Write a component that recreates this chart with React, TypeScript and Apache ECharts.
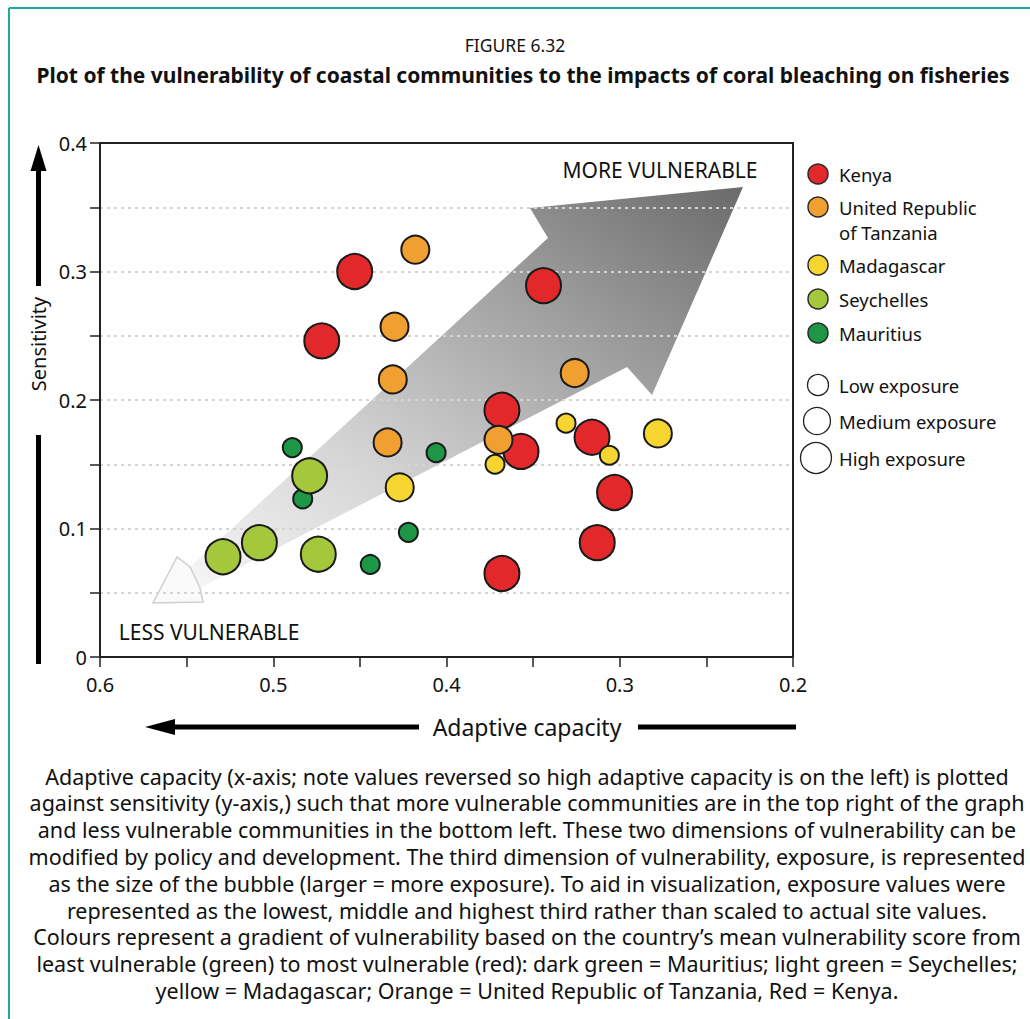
import React, { useEffect, useRef } from "react";
import * as echarts from "echarts";

// ---------------- Data ----------------
const exposureLevels = ["Low exposure", "Medium exposure", "High exposure"];

const kenyaAdaptive = [0.453, 0.472, 0.344, 0.368, 0.357, 0.316, 0.303, 0.313, 0.368];
const kenyaSensitivity = [0.3, 0.246, 0.289, 0.192, 0.16, 0.171, 0.128, 0.089, 0.065];
const kenyaExposure = [3, 3, 3, 3, 3, 3, 3, 3, 3];

const tanzaniaAdaptive = [0.418, 0.43, 0.431, 0.326, 0.434, 0.37];
const tanzaniaSensitivity = [0.317, 0.257, 0.216, 0.221, 0.167, 0.169];
const tanzaniaExposure = [2, 2, 2, 2, 2, 2];

const madagascarAdaptive = [0.427, 0.331, 0.306, 0.278, 0.372];
const madagascarSensitivity = [0.132, 0.182, 0.157, 0.174, 0.15];
const madagascarExposure = [2, 1, 1, 2, 1];

const seychellesAdaptive = [0.479, 0.529, 0.508, 0.474];
const seychellesSensitivity = [0.141, 0.078, 0.089, 0.08];
const seychellesExposure = [3, 3, 3, 3];

const mauritiusAdaptive = [0.489, 0.483, 0.406, 0.422, 0.444];
const mauritiusSensitivity = [0.163, 0.123, 0.159, 0.097, 0.072];
const mauritiusExposure = [1, 1, 1, 1, 1];

const countryNames = ["Kenya", "United Republic\nof Tanzania", "Madagascar", "Seychelles", "Mauritius"];

const captionLines = [
  "Adaptive capacity (x-axis; note values reversed so high adaptive capacity is on the left) is plotted",
  "against sensitivity (y-axis,) such that more vulnerable communities are in the top right of the graph",
  "and less vulnerable communities in the bottom left. These two dimensions of vulnerability can be",
  "modified by policy and development. The third dimension of vulnerability, exposure, is represented",
  "as the size of the bubble (larger = more exposure). To aid in visualization, exposure values were",
  "represented as the lowest, middle and highest third rather than scaled to actual site values.",
  "Colours represent a gradient of vulnerability based on the country\u2019s mean vulnerability score from",
  "least vulnerable (green) to most vulnerable (red): dark green = Mauritius; light green = Seychelles;",
  "yellow = Madagascar; Orange = United Republic of Tanzania, Red = Kenya.",
];

// ---------------- Styles ----------------
const FONT = "'Noto Sans', 'DejaVu Sans', sans-serif";
const COLORS = {
  kenya: "#e2282a",
  tanzania: "#f0a030",
  madagascar: "#f7d531",
  seychelles: "#a4c73c",
  mauritius: "#1d9646",
};
const bubbleSizes = [19, 28, 35];

function tickFmt(v: number) {
  const r = Math.round(v * 10);
  if (Math.abs(v * 10 - r) > 1e-6) return "";
  return r === 0 ? "0" : (r / 10).toFixed(1);
}

function makeSeries(name: string, xs: number[], ys: number[], ex: number[], color: string) {
  return {
    type: "scatter",
    name,
    data: xs.map((x, i) => [x, ys[i], ex[i]]),
    symbolSize: (v: number[]) => bubbleSizes[v[2] - 1],
    itemStyle: { color, borderColor: "#1a1a1a", borderWidth: 2, opacity: 1 },
    emphasis: { disabled: true },
    z: 3,
  };
}

function txt(text: string, x: number, y: number, size: number, extra: any = {}) {
  return {
    type: "text",
    x,
    y,
    z: 10,
    style: {
      text,
      fontSize: size,
      fontFamily: FONT,
      fill: "#111",
      align: "center",
      verticalAlign: "middle",
      ...extra,
    },
  };
}

export default function App() {
  const ref = useRef<HTMLDivElement>(null);

  useEffect(() => {
    document.body.style.margin = "0";
    const chart = echarts.init(ref.current!, null, { renderer: "svg" });

    const legendColors = [COLORS.kenya, COLORS.tanzania, COLORS.madagascar, COLORS.seychelles, COLORS.mauritius];
    const legendY = [174, 207, 265, 299, 333];
    const legendEls: any[] = [];
    countryNames.forEach((n, i) => {
      legendEls.push({
        type: "circle",
        z: 10,
        shape: { cx: 818, cy: legendY[i], r: 10 },
        style: { fill: legendColors[i], stroke: "#2a2a2a", lineWidth: 1.5 },
      });
      legendEls.push(
        txt(n, 839, legendY[i] - 12.75, 18.5, { align: "left", verticalAlign: "top", lineHeight: 25.5 })
      );
    });
    const expY = [385, 421, 458];
    const expR = [10.5, 13.5, 15.5];
    const expX = [818, 817, 816];
    exposureLevels.forEach((n, i) => {
      legendEls.push({
        type: "circle",
        z: 10,
        shape: { cx: expX[i], cy: expY[i], r: expR[i] },
        style: { fill: "#fff", stroke: "#222", lineWidth: 1.3 },
      });
      legendEls.push(txt(n, 839, expY[i], 18.5, { align: "left" }));
    });

    const option: any = {
      animation: false,
      backgroundColor: "#ffffff",
      grid: {
        left: 100,
        top: 143,
        width: 693,
        height: 514,
        show: false,
      },
      xAxis: {
        type: "value",
        min: 0.2,
        max: 0.6,
        interval: 0.05,
        inverse: true,
        axisLine: { show: true, lineStyle: { color: "#222", width: 2 } },
        axisTick: { show: true, length: 10, lineStyle: { color: "#222", width: 1.5 } },
        axisLabel: { formatter: tickFmt, fontSize: 20, color: "#111", fontFamily: FONT, margin: 17, showMinLabel: true, showMaxLabel: true },
        splitLine: { show: false },
      },
      yAxis: {
        type: "value",
        min: 0,
        max: 0.4,
        interval: 0.05,
        axisLine: { show: true, lineStyle: { color: "#222", width: 2 } },
        axisTick: { show: true, length: 10, lineStyle: { color: "#222", width: 1.5 } },
        axisLabel: { formatter: tickFmt, fontSize: 20, color: "#111", fontFamily: FONT, margin: 13, showMinLabel: true, showMaxLabel: true },
        splitLine: { show: true, lineStyle: { color: "#d4d4d4", width: 2, type: [3, 4] } },
      },
      series: [
        makeSeries("Mauritius", mauritiusAdaptive, mauritiusSensitivity, mauritiusExposure, COLORS.mauritius),
        makeSeries("Kenya", kenyaAdaptive, kenyaSensitivity, kenyaExposure, COLORS.kenya),
        makeSeries("United Republic of Tanzania", tanzaniaAdaptive, tanzaniaSensitivity, tanzaniaExposure, COLORS.tanzania),
        makeSeries("Madagascar", madagascarAdaptive, madagascarSensitivity, madagascarExposure, COLORS.madagascar),
        makeSeries("Seychelles", seychellesAdaptive, seychellesSensitivity, seychellesExposure, COLORS.seychelles),
      ],
      graphic: [
        // teal page frame
        { type: "line", z: 10, shape: { x1: 9, y1: 8, x2: 1030, y2: 8 }, style: { stroke: "#1fa8a2", lineWidth: 2 } },
        { type: "line", z: 10, shape: { x1: 9, y1: 8, x2: 9, y2: 1019 }, style: { stroke: "#1fa8a2", lineWidth: 2 } },
        // plot frame (top and right)
        { type: "line", z: 10, shape: { x1: 99, y1: 143, x2: 794, y2: 143 }, style: { stroke: "#222", lineWidth: 2 } },
        { type: "line", z: 10, shape: { x1: 793, y1: 143, x2: 793, y2: 657 }, style: { stroke: "#222", lineWidth: 2 } },
        // titles
        txt("FIGURE 6.32", 515, 45, 17.5),
        txt("Plot of the vulnerability of coastal communities to the impacts of coral bleaching on fisheries", 523, 75, 21, { fontWeight: "bold" }),
        // big vulnerability arrow
        {
          type: "polygon",
          z: -1,
          shape: {
            points: [
              [190, 567],
              [548, 238],
              [530, 208],
              [743, 187],
              [652, 395],
              [627, 367],
              [200, 588],
            ],
          },
          style: {
            fill: {
              type: "linear",
              x: 0,
              y: 1,
              x2: 1,
              y2: 0,
              colorStops: [
                { offset: 0, color: "#f6f6f6" },
                { offset: 0.3, color: "#d6d6d6" },
                { offset: 0.65, color: "#a2a2a2" },
                { offset: 1, color: "#6a6a6a" },
              ],
            },
          },
        },
        {
          type: "polygon",
          z: -1,
          shape: {
            points: [
              [177, 557],
              [153, 603],
              [203, 602],
              [200, 588],
              [190, 567],
            ],
          },
          style: { fill: "#fafafa", stroke: "#cfcfcf", lineWidth: 1.5 },
        },
        txt("MORE VULNERABLE", 660, 170, 21),
        txt("LESS VULNERABLE", 209, 632, 21),
        // y-axis name with arrow
        { type: "polygon", z: 10, shape: { points: [[38.5, 145], [30.5, 171], [46.5, 171]] }, style: { fill: "#000" } },
        { type: "rect", z: 10, shape: { x: 36, y: 168, width: 5, height: 118 }, style: { fill: "#000" } },
        { type: "rect", z: 10, shape: { x: 36, y: 435, width: 5, height: 229 }, style: { fill: "#000" } },
        { ...txt("Sensitivity", 38, 344, 20), rotation: Math.PI / 2 },
        // x-axis name with arrow
        { type: "polygon", z: 10, shape: { points: [[145, 727], [175, 719], [175, 735]] }, style: { fill: "#000" } },
        { type: "rect", z: 10, shape: { x: 172, y: 724.5, width: 247, height: 5 }, style: { fill: "#000" } },
        { type: "rect", z: 10, shape: { x: 638, y: 724.5, width: 158, height: 5 }, style: { fill: "#000" } },
        txt("Adaptive capacity", 527, 727, 23),
        // legend
        ...legendEls,
        // caption
        ...captionLines.map((ln, i) => txt(ln, 527, 776 + i * 26.8, 21.5)),
      ],
    };

    chart.setOption(option);
    return () => chart.dispose();
  }, []);

  return <div ref={ref} style={{ width: 1030, height: 1019 }} />;
}
